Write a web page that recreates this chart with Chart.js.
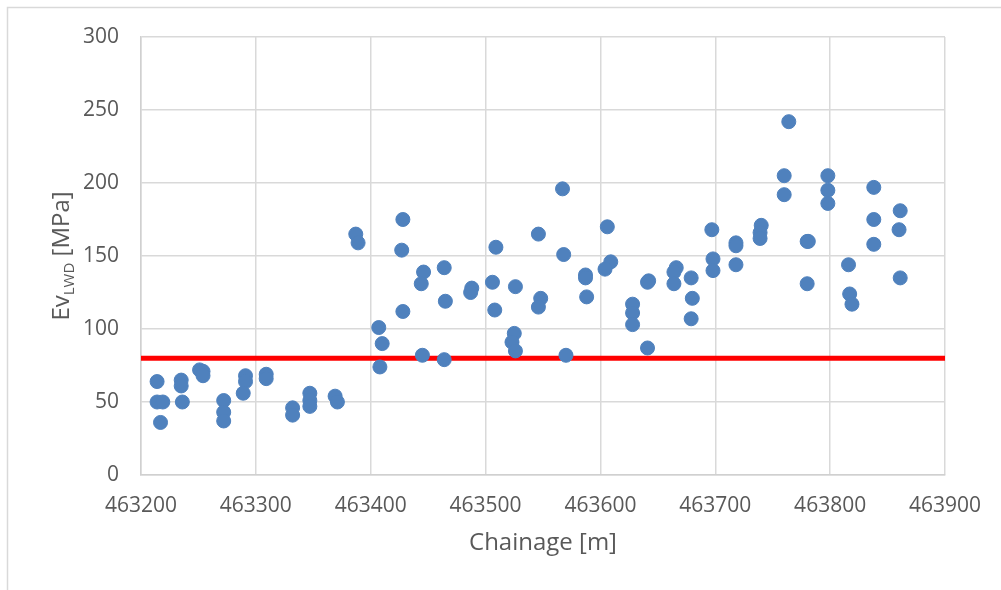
<!DOCTYPE html>
<html>
<head>
<meta charset="utf-8">
<script src="https://cdn.jsdelivr.net/npm/chart.js@4.4.0/dist/chart.umd.min.js"></script>
<style>
  body { margin: 0; background: #fff; }
  #wrap { width: 1001px; height: 590px; }
</style>
</head>
<body>
<div id="wrap"><canvas id="nchart" width="1001" height="590"></canvas></div>
<script>
// chainage [m] of each LWD test
const chainage = [
  463214, 463214, 463219, 463217, 463235, 463235, 463236, 463251, 463254, 463254,
  463272, 463272, 463272, 463291, 463291, 463289, 463309, 463309, 463332, 463332,
  463347, 463347, 463347, 463369, 463371, 463387, 463389, 463407, 463410, 463408,
  463428, 463427, 463428, 463446, 463444, 463445, 463464, 463465, 463464, 463488,
  463487, 463509, 463506, 463508, 463526, 463525, 463523, 463526, 463546, 463548,
  463546, 463567, 463568, 463570, 463587, 463587, 463588, 463606, 463609, 463604,
  463628, 463628, 463628, 463642, 463641, 463641, 463666, 463664, 463664, 463679,
  463680, 463679, 463697, 463698, 463698, 463718, 463718, 463718, 463740, 463739,
  463739, 463764, 463760, 463760, 463780, 463781, 463780, 463798, 463798, 463798,
  463816, 463817, 463819, 463838, 463838, 463838, 463861, 463860, 463861
]
// Ev LWD [MPa]
const evLwd = [
  64, 50, 50, 36, 65, 61, 50, 72, 71, 68,
  51, 43, 37, 68, 64, 56, 69, 66, 46, 41,
  56, 51, 47, 54, 50, 165, 159, 101, 90, 74,
  175, 154, 112, 139, 131, 82, 142, 119, 79, 128,
  125, 156, 132, 113, 129, 97, 91, 85, 165, 121,
  115, 196, 151, 82, 137, 135, 122, 170, 146, 141,
  117, 111, 103, 133, 132, 87, 142, 139, 131, 135,
  121, 107, 168, 148, 140, 159, 157, 144, 171, 166,
  162, 242, 205, 192, 160, 160, 131, 205, 195, 186,
  144, 124, 117, 197, 175, 158, 181, 168, 135
]
// required minimum (red line)
const limitX = [463200, 463900]
const limitY = [80, 80]

const xRange = [463200, 463900]
const yRange = [0, 300]

let points = chainage.map((c, i) => ({ x: c, y: evLwd[i] }))
let limit = limitX.map((c, i) => ({ x: c, y: limitY[i] }))

const txt = '#595959'
const font = 'Open Sans'

// frame + y title with subscript
const extras = {
  id: 'extras',
  beforeDraw(chart) {
    let c = chart.ctx
    c.save()
    c.fillStyle = '#fff'
    c.fillRect(0, 0, chart.width, chart.height)
    c.strokeStyle = '#d9d9d9'
    c.lineWidth = 1.5
    c.beginPath()
    c.moveTo(7.5, chart.height)
    c.lineTo(7.5, 7.5)
    c.lineTo(chart.width, 7.5)
    c.stroke()
    c.restore()
  },
  afterDraw(chart) {
    let c = chart.ctx
    let a = chart.chartArea
    c.save()
    c.translate(69, (a.top + a.bottom) / 2)
    c.rotate(-Math.PI / 2)
    c.fillStyle = txt
    c.textBaseline = 'alphabetic'
    c.textAlign = 'left'
    let big = '24px "' + font + '"'
    let small = '15px "' + font + '"'
    c.font = big
    let w1 = c.measureText('Ev').width
    let w3 = c.measureText(' [MPa]').width
    c.font = small
    let w2 = c.measureText('LWD').width
    let x = -(w1 + w2 + w3) / 2
    c.font = big
    c.fillText('Ev', x, 0)
    c.font = small
    c.fillText('LWD', x + w1, 5)
    c.font = big
    c.fillText(' [MPa]', x + w1 + w2, 0)
    c.restore()
  }
}

var chartGraph = new Chart(document.getElementById('nchart'), {
  type: 'scatter',
  data: {
    datasets: [
      {
        data: limit,
        showLine: true,
        borderColor: '#ff0000',
        borderWidth: 5,
        pointRadius: 0,
        order: 1
      },
      {
        data: points,
        backgroundColor: '#4f81bd',
        borderColor: '#4f81bd',
        borderWidth: 1,
        pointRadius: 7,
        order: 0
      }
    ]
  },
  options: {
    responsive: false,
    animation: false,
    layout: { padding: { top: 37, right: 56, bottom: 0, left: 0 } },
    plugins: { legend: { display: false }, tooltip: { enabled: false } },
    scales: {
      x: {
        type: 'linear',
        min: xRange[0],
        max: xRange[1],
        grid: { color: '#d9d9d9', lineWidth: 1.5, drawTicks: false },
        border: { color: '#d0d0d0', width: 1.5 },
        ticks: {
          stepSize: 100,
          padding: 18,
          color: txt,
          font: { family: font, size: 21 },
          callback: v => String(v)
        },
        title: {
          display: true,
          text: 'Chainage [m]',
          color: txt,
          font: { family: font, size: 24 },
          padding: { top: 0, bottom: 32 }
        },
        afterFit: s => { s.height = 115 }
      },
      y: {
        min: yRange[0],
        max: yRange[1],
        grid: { color: '#d9d9d9', lineWidth: 1.5, drawTicks: false },
        border: { color: '#d0d0d0', width: 1.5 },
        ticks: {
          stepSize: 50,
          padding: 22,
          color: txt,
          font: { family: font, size: 21 }
        },
        afterFit: s => { s.width = 141 }
      }
    }
  },
  plugins: [extras]
})
</script>
</body>
</html>
